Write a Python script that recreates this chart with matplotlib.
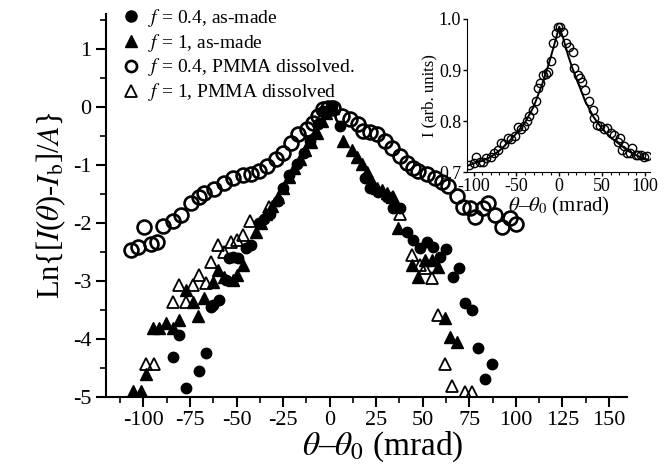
import matplotlib.pyplot as plt
from matplotlib.ticker import MultipleLocator

plt.rcParams['font.family'] = ['Liberation Serif', 'DejaVu Serif']
plt.rcParams['mathtext.fontset'] = 'stix'
plt.rcParams['axes.unicode_minus'] = False

# f = 0.4, as-made (filled circles)
x_f04_made = [-84.3, -81, -77.3, -70.3, -66.6, -63.9, -62.8, -59.6, -55.9, -54, -52, -49, -45,
              -42.5, -38, -35.5, -31.8, -28, -25.3, -22, -17.3, -14, -10.3, -6, -3.4, 1.4,
              5.7, 19, 21.8, 26, 30.9, 34, 37.8, 41.6, 45, 48.6, 52.3, 55.5, 59.3, 62.5,
              66.2, 69.5, 72.7, 76.4, 79.7, 83.4, 87]
y_f04_made = [-4.32, -3.93, -4.84, -4.56, -4.24, -3.45, -3.41, -3.33, -2.98, -2.61, -2.59, -2.61, -2.44,
              -2.38, -2.0, -1.94, -1.84, -1.62, -1.39, -1.18, -0.98, -0.79, -0.58, -0.3, -0.07, 0.02,
              -0.33, -1.22, -1.39, -1.47, -1.56, -1.75, -1.75, -2.16, -2.3, -2.44, -2.33, -2.42, -2.59, -2.45,
              -2.93, -2.78, -3.38, -3.5, -4.15, -4.7, -4.44]

# f = 1, as-made (filled triangles)
x_f1_made = [-105.7, -101.4, -98.7, -95, -91.6, -88, -84.3, -81, -77.3, -73.6, -70.9, -67.6,
             -62.8, -60, -57, -52, -49.5, -46.3, -39.8, -37, -34, -31, -28, -25, -22, -19,
             -16, -13, -10, -7, -4, -2, 0, 2, 7.3, 12, 14.8, 17.5, 20, 22.9, 25.5, 28.3,
             30.9, 33.6, 36.8, 44.3, 47.5, 51.2, 55, 58.2, 61.9, 64.6, 68.4]
y_f1_made = [-4.9, -4.9, -4.61, -3.81, -3.81, -3.72, -3.81, -3.67, -3.16, -3.36, -3.6, -3.29,
             -3.02, -2.81, -2.93, -2.98, -2.9, -2.73, -2.16, -2.0, -1.85, -1.7, -1.55, -1.4, -1.2, -1.05,
             -0.9, -0.75, -0.6, -0.45, -0.25, -0.1, 0.0, -0.02, -0.58, -0.75, -0.87, -0.98, -1.13, -1.3, -1.39, -1.44,
             -1.49, -1.56, -2.08, -2.73, -2.93, -2.64, -2.64, -2.76, -3.64, -3.96, -4.05]

# f = 0.4, PMMA dissolved (open circles)
x_f04_diss = [-106.7, -103, -99.8, -96, -92.5, -89.7, -84.3, -80, -74.6, -70.3, -67.6, -62.3,
              -56.9, -52, -46.8, -42.5, -38, -33.4, -29, -24.8, -21, -16.8, -12, -8.7, -6,
              -3.4, -0.7, 2, 6.8, 11, 15.4, 18, 21.8, 25.5, 29.8, 33.6, 37.8, 41.6, 45,
              47.5, 52.3, 56.6, 60.4, 63.6, 68.4, 71.6, 75.4, 78, 82.3, 85, 88.8, 92.5,
              96.8, 100]
y_f04_diss = [-2.47, -2.42, -2.07, -2.37, -2.33, -2.06, -1.96, -1.87, -1.66, -1.56, -1.49, -1.41,
              -1.32, -1.23, -1.18, -1.15, -1.1, -1.01, -0.89, -0.79, -0.63, -0.46, -0.38, -0.27, -0.15,
              -0.03, -0.02, -0.02, -0.15, -0.2, -0.3, -0.41, -0.44, -0.46, -0.58, -0.7, -0.84, -0.96, -1.06,
              -1.1, -1.15, -1.23, -1.3, -1.36, -1.53, -1.73, -1.75, -1.9, -1.75, -1.66, -1.87, -2.07,
              -1.92, -2.02]

# f = 1, PMMA dissolved (open triangles)
x_f1_diss = [-98.7, -94.4, -84.3, -81, -77.3, -73.6, -70.3, -66.6, -63.9, -60, -57, -53.2,
             -49.5, -46.3, -43, -32.8, -3, 1, 34, 37.8, 44.3, 48.6, 51.2, 55, 58.2, 61.9,
             65.7, 72.7, 76.4]
y_f1_diss = [-4.44, -4.44, -3.36, -3.07, -3.36, -3.07, -2.9, -3.04, -2.68, -2.38, -2.5, -2.33,
             -2.3, -2.21, -1.96, -1.73, -0.1, 0.0, -1.56, -1.84, -2.56, -2.73, -2.78, -2.95, -3.58, -4.44,
             -4.82, -4.92, -4.92]

# inset: intensity profile and fit
x_inset = [-105, -100, -97, -93, -89, -85, -80, -76, -72, -68, -64, -60, -56, -52, -48, -45,
           -41, -38, -35, -31, -27, -25, -22, -19, -16, -13.5, -10, -7.7, -4, -1, 1, 4, 7.8,
           11, 15.6, 17.4, 21.4, 24, 27, 30, 35, 38.8, 40.7, 44.6, 48, 52, 56.3, 60, 64, 68,
           70.5, 73.7, 76, 79.5, 82, 85.3, 89.2, 92, 95, 98.8, 102]
y_inset = [0.715, 0.717, 0.729, 0.719, 0.72, 0.727, 0.729, 0.737, 0.743, 0.757, 0.755, 0.766, 0.765, 0.771, 0.788,
           0.785, 0.79, 0.8, 0.81, 0.822, 0.84, 0.864, 0.875, 0.89, 0.893, 0.897, 0.917, 0.952, 0.972, 0.985,
           0.985, 0.975, 0.953, 0.945, 0.936, 0.903, 0.89, 0.885, 0.877, 0.86, 0.84, 0.822, 0.806, 0.793, 0.79,
           0.785, 0.786, 0.776, 0.773, 0.76, 0.767, 0.744, 0.752, 0.737, 0.738, 0.747, 0.734, 0.733, 0.734, 0.73,
           0.732]
x_fit = [-108, -100, -90, -80, -70, -60, -50, -40, -30, -20, -15, -10, -5, 0, 5, 10, 15, 20,
         30, 40, 50, 60, 70, 80, 90, 100, 103]
y_fit = [0.712, 0.717, 0.722, 0.73, 0.742, 0.758, 0.776, 0.797, 0.828, 0.872, 0.897, 0.925, 0.955,
         0.985, 0.96, 0.93, 0.905, 0.883, 0.84, 0.808, 0.785, 0.768, 0.755, 0.742, 0.733, 0.726, 0.725]

fig = plt.figure(figsize=(6.64, 4.73), dpi=100)
ax = fig.add_axes([0.16, 0.161, 0.785, 0.809])

ax.plot(x_f04_made, y_f04_made, 'o', color='black', ms=7.5, label=r'$f$ = 0.4, as-made')
ax.plot(x_f1_made, y_f1_made, '^', color='black', ms=8, label=r'$f$ = 1, as-made')
ax.plot(x_f04_diss, y_f04_diss, 'o', mfc='none', mec='black', mew=1.9, ms=10,
        label=r'$f$ = 0.4, PMMA dissolved.')
ax.plot(x_f1_diss, y_f1_diss, '^', mfc='none', mec='black', mew=1.3, ms=8,
        label=r'$f$ = 1, PMMA dissolved')

ax.set_xlim(-120, 160)
ax.set_ylim(-5, 1.6)
ax.xaxis.set_minor_locator(MultipleLocator(12.5))
ax.yaxis.set_major_locator(MultipleLocator(1))
ax.yaxis.set_minor_locator(MultipleLocator(0.5))
ax.set_xticks([-100, -75, -50, -25, 0, 25, 50, 75, 100, 125, 150])
for s in ['top', 'right']:
    ax.spines[s].set_visible(False)
for s in ['left', 'bottom']:
    ax.spines[s].set_linewidth(1.5)
ax.tick_params(which='major', direction='out', length=7, width=1.5, labelsize=16)
ax.tick_params(which='minor', direction='out', length=4, width=1.2)
ax.set_xlabel(r'$\theta$–$\theta_0$ (mrad)', fontsize=24, labelpad=2)
ax.xaxis.set_label_coords(0.53, -0.085)
ax.set_ylabel(r'Ln{[$I$($\theta$)-$I_{\rm b}$]/$A$}', fontsize=22, labelpad=4)

leg = ax.legend(loc='upper left', bbox_to_anchor=(0.01, 1.04), frameon=False, fontsize=14,
                handletextpad=0.3, labelspacing=0.15, handlelength=1.2, borderaxespad=0)
for h in leg.legend_handles:
    h.set_markersize(8)

# inset
ins = fig.add_axes([0.703, 0.636, 0.276, 0.324])
ins.plot(x_inset, y_inset, 'o', mfc='none', mec='black', mew=1.0, ms=6)
ins.plot(x_fit, y_fit, '-', color='black', lw=1.4)
ins.set_xlim(-108, 106)
ins.set_ylim(0.7, 1.0)
ins.set_xticks([-100, -50, 0, 50, 100])
ins.xaxis.set_minor_locator(MultipleLocator(10))
ins.set_yticks([0.7, 0.8, 0.9, 1.0])
ins.set_yticklabels(['0.7', '0.8', '0.9', '1.0'])
for s in ['top', 'right']:
    ins.spines[s].set_visible(False)
ins.tick_params(which='major', direction='out', length=3, width=1, labelsize=13, pad=1)
ins.tick_params(which='minor', direction='out', length=2, width=0.8)
ins.set_xlabel(r'$\theta$–$\theta_0$ (mrad)', fontsize=15, labelpad=0)
ins.set_ylabel('I (arb. units)', fontsize=12, labelpad=1)

plt.savefig('out.png', dpi=100)
